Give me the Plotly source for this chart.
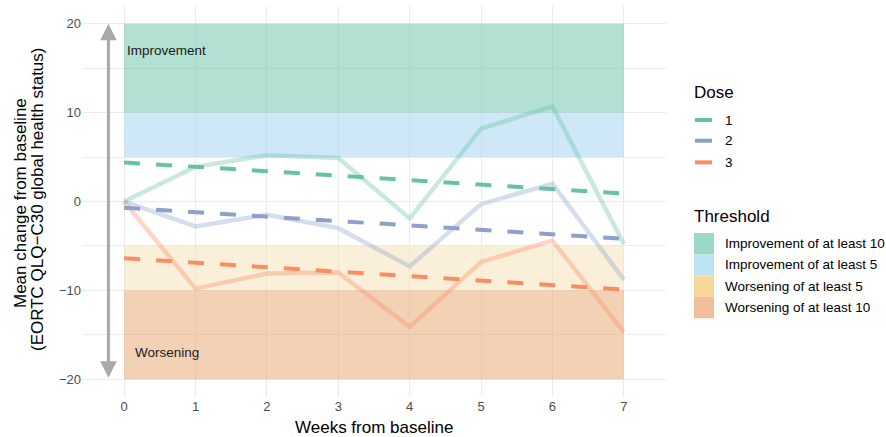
import plotly.graph_objects as go

# ---- data ----
weeks = [0, 1, 2, 3, 4, 5, 6, 7]
doses = ["1", "2", "3"]
observed = {
    "1": [0, 3.9, 5.2, 4.9, -1.9, 8.2, 10.7, -4.8],
    "2": [0, -2.8, -1.5, -3.0, -7.3, -0.3, 2.0, -8.8],
    "3": [0, -9.8, -8.1, -8.0, -14.1, -6.8, -4.4, -14.7],
}
trend_weeks = [0, 7]
trend = {
    "1": [4.4, 0.9],
    "2": [-0.7, -4.2],
    "3": [-6.4, -9.9],
}
dose_colors = {"1": "#66C2A5", "2": "#8DA0CB", "3": "#FC8D62"}

thresholds = ["Improvement of at least 10", "Improvement of at least 5",
              "Worsening of at least 5", "Worsening of at least 10"]
thr_low = [10, 5, -10, -20]
thr_high = [20, 10, -5, -10]
thr_band_colors = ["rgba(102,194,165,0.5)", "rgba(157,209,239,0.5)",
                   "rgba(245,223,179,0.5)", "rgba(229,163,107,0.5)"]
thr_key_colors = ["#9bd9c6", "#bde3f5", "#f6d89d", "#efbf9c"]

y_ticks = [-20, -10, 0, 10, 20]

# ---- layout geometry (pixels) ----
W, H = 886, 437
ML, MR, MT, MB = 82, 220, 6, 40
PW, PH = W - ML - MR, H - MT - MB


def px(x):
    return (x - ML) / PW


def py(y):
    return (H - MB - y) / PH


fig = go.Figure()

for d in doses:
    fig.add_trace(go.Scatter(x=weeks, y=observed[d], mode="lines",
                             line=dict(color=dose_colors[d], width=4.5),
                             opacity=0.35, showlegend=False, hoverinfo="skip"))
for d in doses:
    fig.add_trace(go.Scatter(x=trend_weeks, y=trend[d], mode="lines",
                             line=dict(color=dose_colors[d], width=4, dash="16px,16px"),
                             showlegend=False))

shapes = []
for lo, hi, c in zip(thr_low, thr_high, thr_band_colors):
    shapes.append(dict(type="rect", xref="x", yref="y", x0=0, x1=7, y0=lo, y1=hi,
                       fillcolor=c, line=dict(width=0), layer="between"))

annotations = []
# double arrow
annotations.append(dict(x=-0.22, y=20, ax=-0.22, ay=-20, xref="x", yref="y",
                        axref="x", ayref="y", text="", showarrow=True,
                        arrowside="end+start", arrowhead=2, arrowsize=1.1,
                        arrowwidth=3, arrowcolor="#a9a9a9", standoff=0, startstandoff=0))
annotations.append(dict(x=0.6, y=17, xref="x", yref="y", text="Improvement",
                        showarrow=False, xanchor="center", yanchor="middle",
                        font=dict(size=13.5, color="#1a1a1a")))
annotations.append(dict(x=0.6, y=-17, xref="x", yref="y", text="Worsening",
                        showarrow=False, xanchor="center", yanchor="middle",
                        font=dict(size=13.5, color="#1a1a1a")))


def ann(xp, yp, text, size, xanchor="left", angle=0):
    annotations.append(dict(x=px(xp), y=py(yp), xref="paper", yref="paper",
                            text=text, showarrow=False, xanchor=xanchor,
                            yanchor="middle", textangle=angle,
                            font=dict(size=size, color="black")))


# axis titles
ann(374, 428, "Weeks from baseline", 17, "center")
ann(20, 203, "Mean change from baseline", 17, "center", -90)
ann(37, 200, "(EORTC QLQ\u2212C30 global health status)", 17, "center", -90)

# manual legends
ann(692, 92.7, "Dose", 17)
for i, d in enumerate(doses):
    yc = [120, 140.7, 162.3][i]
    shapes.append(dict(type="line", xref="paper", yref="paper",
                       x0=px(695), x1=px(712), y0=py(yc), y1=py(yc),
                       line=dict(color=dose_colors[d], width=4)))
    ann(723, yc, d, 13.5)

ann(692, 216.7, "Threshold", 17)
key_top = 233
for i, (t, c) in enumerate(zip(thresholds, thr_key_colors)):
    y0 = key_top + i * 21.3
    y1 = y0 + 21.3
    shapes.append(dict(type="rect", xref="paper", yref="paper",
                       x0=px(694), x1=px(714), y0=py(y1), y1=py(y0),
                       fillcolor=c, line=dict(width=0)))
    ann(723, (y0 + y1) / 2, t, 13.5)

fig.update_layout(
    width=W, height=H,
    margin=dict(l=ML, r=MR, t=MT, b=MB, pad=0),
    plot_bgcolor="white", paper_bgcolor="white",
    font=dict(family="Liberation Sans, Arial, sans-serif", size=13, color="#4d4d4d"),
    showlegend=False,
    shapes=shapes, annotations=annotations,
    xaxis=dict(range=[-0.59, 7.59], tickvals=weeks, ticktext=[str(w) for w in weeks],
               showgrid=True, gridcolor="#ebebeb", gridwidth=1.1, zeroline=False,
               showline=False, ticks="", tickfont=dict(size=13, color="#4d4d4d")),
    yaxis=dict(range=[-22, 22], tickvals=y_ticks, ticktext=[str(v).replace("-", "\u2212") for v in y_ticks],
               showgrid=True, gridcolor="#ebebeb", gridwidth=1.1, zeroline=False,
               showline=False, ticks="", tickfont=dict(size=13, color="#4d4d4d"),
               minor=dict(tickvals=[-15, -5, 5, 15], showgrid=True, gridcolor="#ebebeb", gridwidth=1)),
)

fig.write_html("out.html", config={"displayModeBar": False},
               post_script="document.body.style.margin='0';document.body.style.overflow='hidden';")
